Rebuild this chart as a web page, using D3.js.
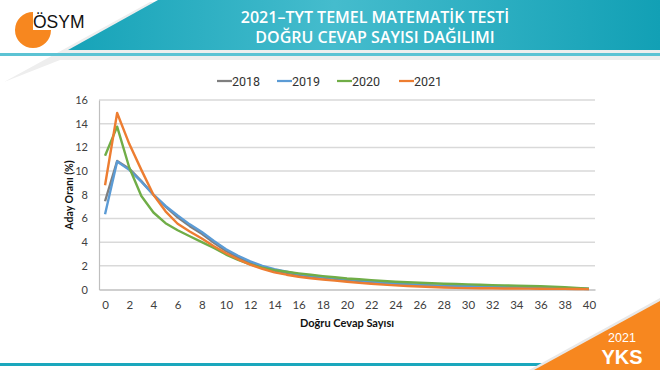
<!DOCTYPE html>
<html>
<head>
<meta charset="utf-8">
<script src="https://cdn.jsdelivr.net/npm/d3@7"></script>
<style>
  body { margin: 0; background: #fff; }
  svg { display: block; font-family: "Lato", "Open Sans", sans-serif; }
</style>
</head>
<body>
<svg id="chart" width="660" height="370"></svg>
<script>
// data
var categories = d3.range(0, 41);
var years = ["2018", "2019", "2020", "2021"];
var s2018 = [7.45, 10.85, 10.2, 9.15, 8.0, 7.0, 6.1, 5.35, 4.7, 3.95, 3.25, 2.7, 2.25, 1.9, 1.6, 1.4, 1.22, 1.1, 1.0, 0.9, 0.8,
  0.71, 0.62, 0.54, 0.46, 0.41, 0.36, 0.32, 0.29, 0.27, 0.25, 0.23, 0.21, 0.19, 0.17, 0.15, 0.13, 0.11, 0.09, 0.07, 0.04];
var s2019 = [6.35, 10.8, 10.1, 9.1, 8.0, 7.05, 6.25, 5.5, 4.85, 4.1, 3.4, 2.85, 2.38, 2.0, 1.72, 1.5, 1.3, 1.16, 1.05, 0.96, 0.88,
  0.78, 0.68, 0.59, 0.51, 0.45, 0.4, 0.35, 0.31, 0.29, 0.27, 0.25, 0.23, 0.21, 0.19, 0.17, 0.15, 0.13, 0.11, 0.08, 0.05];
var s2020 = [11.3, 13.75, 10.3, 7.9, 6.5, 5.6, 5.0, 4.5, 4.0, 3.5, 2.95, 2.5, 2.12, 1.85, 1.64, 1.5, 1.36, 1.24, 1.13, 1.03, 0.93,
  0.86, 0.79, 0.72, 0.66, 0.61, 0.57, 0.53, 0.49, 0.46, 0.43, 0.4, 0.37, 0.35, 0.33, 0.3, 0.27, 0.24, 0.2, 0.14, 0.06];
var s2021 = [8.8, 14.9, 12.3, 10.1, 8.0, 6.6, 5.55, 4.9, 4.3, 3.65, 3.06, 2.55, 2.1, 1.75, 1.45, 1.25, 1.08, 0.95, 0.85, 0.75, 0.65,
  0.56, 0.48, 0.41, 0.35, 0.3, 0.25, 0.21, 0.17, 0.14, 0.12, 0.11, 0.1, 0.09, 0.08, 0.07, 0.06, 0.05, 0.05, 0.04, 0.03];
var xTicks = d3.range(0, 41, 2);
var yTicks = [0, 2, 4, 6, 8, 10, 12, 14, 16];
var colors = ["#7f7f7f", "#5b9bd5", "#70ad47", "#ed7d31"];

var series = [s2018, s2019, s2020, s2021];

var svg = d3.select("#chart");

// header banner
var defs = svg.append("defs");
var grad = defs.append("linearGradient").attr("id", "band");
grad.append("stop").attr("offset", "0%").attr("stop-color", "#16a3b8");
grad.append("stop").attr("offset", "45%").attr("stop-color", "#45bccd");
grad.append("stop").attr("offset", "100%").attr("stop-color", "#12a0b5");

svg.append("path")
  .attr("d", "M4,82 L150,2 L660,2 L660,60 L60,60 Z")
  .attr("fill", "#eeeeee");
svg.append("rect")
  .attr("x", 0).attr("y", 53).attr("width", 660).attr("height", 3)
  .attr("fill", "#5cc3d4");
svg.append("path")
  .attr("d", "M158,0 L660,0 L660,50 L68,50 Z")
  .attr("fill", "url(#band)");

svg.append("text")
  .attr("x", 375).attr("y", 23)
  .attr("text-anchor", "middle")
  .attr("fill", "#fff").attr("font-size", 16).attr("font-weight", 600)
  .attr("font-family", "Open Sans, sans-serif")
  .text("2021–TYT TEMEL MATEMATİK TESTİ");
svg.append("text")
  .attr("x", 375).attr("y", 43)
  .attr("text-anchor", "middle")
  .attr("fill", "#fff").attr("font-size", 16).attr("font-weight", 600)
  .attr("font-family", "Open Sans, sans-serif")
  .text("DOĞRU CEVAP SAYISI DAĞILIMI");

// logo
var arc = d3.arc().innerRadius(0).outerRadius(18)
  .startAngle(Math.PI / 2).endAngle(2 * Math.PI);
svg.append("path")
  .attr("transform", "translate(33,30)")
  .attr("d", arc())
  .attr("fill", "#f7871f");
svg.append("text")
  .attr("x", 33).attr("y", 28)
  .attr("font-family", "Liberation Sans, Arial, sans-serif")
  .attr("font-size", 17.5)
  .attr("fill", "#111")
  .text("ÖSYM");

// scales
var x = d3.scalePoint().domain(categories).range([99, 595]).padding(0.5);
var y = d3.scaleLinear().domain([0, 16]).range([289.5, 100]);

// grid
svg.append("g")
  .selectAll("line")
  .data(yTicks.slice(1))
  .enter()
  .append("line")
  .attr("x1", 99).attr("x2", 595)
  .attr("y1", function(d) { return y(d); })
  .attr("y2", function(d) { return y(d); })
  .attr("stroke", "#d9d9d9").attr("stroke-width", 1.5);

// axes
var yAxis = svg.append("g")
  .attr("transform", "translate(99,0)")
  .call(d3.axisLeft(y).tickValues(yTicks).tickSize(0).tickPadding(11));
yAxis.select(".domain").attr("stroke", "#bfbfbf").attr("stroke-width", 1.2);
yAxis.selectAll("text").attr("fill", "#404040").attr("font-size", 11)
  .attr("font-family", "Lato, sans-serif");

var xAxis = svg.append("g")
  .attr("transform", "translate(0,289.5)")
  .call(d3.axisBottom(x).tickValues(xTicks).tickSize(0).tickPadding(11));
xAxis.select(".domain").attr("stroke", "#bfbfbf").attr("stroke-width", 1.5);
xAxis.selectAll("text").attr("fill", "#404040").attr("font-size", 11.5)
  .attr("font-family", "Lato, sans-serif");

// lines
var line = d3.line()
  .x(function(d, i) { return x(categories[i]); })
  .y(function(d) { return y(d); });

svg.append("g")
  .selectAll("path")
  .data(series)
  .enter()
  .append("path")
  .attr("d", function(d) { return line(d); })
  .attr("fill", "none")
  .attr("stroke", function(d, i) { return colors[i]; })
  .attr("stroke-width", 2.4)
  .attr("stroke-linejoin", "round");

// axis titles
svg.append("text")
  .attr("transform", "translate(73,195) rotate(-90)")
  .attr("text-anchor", "middle")
  .attr("font-size", 10.5).attr("font-weight", 700).attr("fill", "#111")
  .text("Aday Oranı (%)");
svg.append("text")
  .attr("x", 347).attr("y", 327)
  .attr("text-anchor", "middle")
  .attr("font-size", 11).attr("font-weight", 700).attr("fill", "#111")
  .text("Doğru Cevap Sayısı");

// legend
var legendX = [217, 277, 337, 399];
var legend = svg.append("g");
legend.selectAll("line")
  .data(years)
  .enter()
  .append("line")
  .attr("x1", function(d, i) { return legendX[i]; })
  .attr("x2", function(d, i) { return legendX[i] + 15; })
  .attr("y1", 81).attr("y2", 81)
  .attr("stroke", function(d, i) { return colors[i]; })
  .attr("stroke-width", 2.25);
legend.selectAll("text")
  .data(years)
  .enter()
  .append("text")
  .attr("x", function(d, i) { return legendX[i] + 15; })
  .attr("y", 85.5)
  .attr("font-size", 12.5).attr("fill", "#333")
  .attr("font-family", "Roboto, sans-serif")
  .text(function(d) { return d; });

// footer
svg.append("rect")
  .attr("x", 0).attr("y", 363).attr("width", 560).attr("height", 3)
  .attr("fill", "#1aa7bd");
svg.append("path")
  .attr("d", "M660,298 L529,370 L660,370 Z")
  .attr("fill", "#e8e8e8");
svg.append("path")
  .attr("d", "M660,301 L534,370 L660,370 Z")
  .attr("fill", "#f7871f");
svg.append("text")
  .attr("x", 622).attr("y", 342)
  .attr("text-anchor", "middle")
  .attr("font-family", "Liberation Sans, Arial, sans-serif")
  .attr("font-size", 12.5).attr("fill", "#fff")
  .text("2021");
svg.append("text")
  .attr("x", 622).attr("y", 364)
  .attr("text-anchor", "middle")
  .attr("font-family", "Liberation Sans, Arial, sans-serif")
  .attr("font-size", 20).attr("font-weight", 700).attr("fill", "#fff")
  .text("YKS");
</script>
</body>
</html>
